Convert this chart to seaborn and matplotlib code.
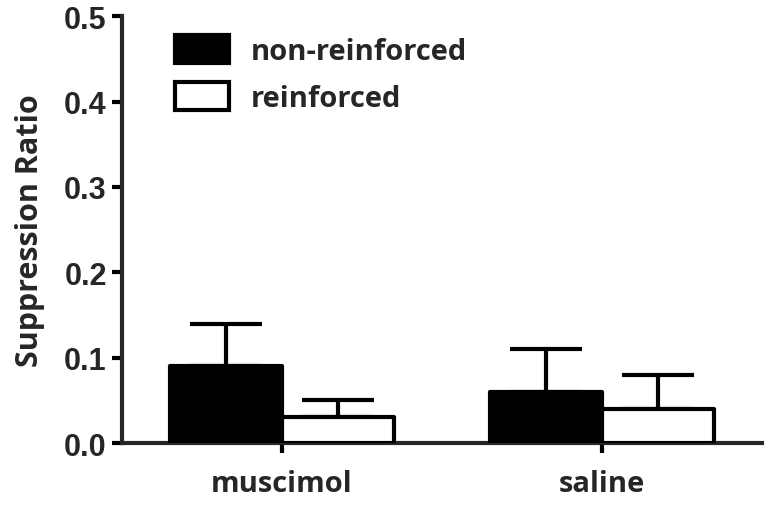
import matplotlib
matplotlib.use("Agg")
import matplotlib.pyplot as plt
import seaborn as sns
import numpy as np
import pandas as pd

groups = ["muscimol", "saline"]
conditions = ["non-reinforced", "reinforced"]
means_nonreinforced = [0.09, 0.06]
means_reinforced = [0.03, 0.04]
sem_nonreinforced = [0.05, 0.05]
sem_reinforced = [0.02, 0.04]
y_ticks = [0.0, 0.1, 0.2, 0.3, 0.4, 0.5]

df = pd.DataFrame({
    "group": groups * 2,
    "condition": [conditions[0]] * 2 + [conditions[1]] * 2,
    "ratio": means_nonreinforced + means_reinforced,
    "err": sem_nonreinforced + sem_reinforced,
})

sns.set_style("ticks")
plt.rcParams["font.family"] = ["Open Sans", "DejaVu Sans"]
plt.rcParams["font.weight"] = "bold"

fig = plt.figure(figsize=(7.68, 5.06), dpi=100)
ax = fig.add_axes([0.159, 0.1225, 0.833, 0.8435])

lw = 3.0
sns.barplot(data=df, x="group", y="ratio", hue="condition", order=groups,
            hue_order=conditions, palette=["black", "white"], edgecolor="black",
            linewidth=lw, width=0.7, errorbar=None, ax=ax, zorder=3)

for cont, cond in zip(ax.containers, conditions):
    sub = df[df["condition"] == cond].set_index("group").loc[groups]
    xs = [b.get_x() + b.get_width() / 2 for b in cont]
    ys = sub["ratio"].values
    errs = sub["err"].values
    ax.errorbar(xs, ys, yerr=[np.zeros_like(errs), errs], fmt="none",
                ecolor="black", elinewidth=lw, capsize=26, capthick=lw, zorder=2)
for p in ax.patches:
    p.set_joinstyle("round")

ax.set_xlim(-0.5, 1.5)
ax.set_ylim(0, 0.5)
ax.set_yticks(y_ticks)
ax.set_yticklabels([f"{t:.1f}" for t in y_ticks], family="Liberation Sans",
                   fontweight="bold", fontsize=22)
ax.set_xticklabels(groups, fontsize=21, fontweight="bold")
ax.set_xlabel("")
ax.set_ylabel("Suppression Ratio", fontsize=22, fontweight="bold")
ax.yaxis.set_label_coords(-0.12, 0.5)

for s in ["top", "right"]:
    ax.spines[s].set_visible(False)
for s in ["left", "bottom"]:
    ax.spines[s].set_linewidth(lw)
ax.tick_params(axis="both", width=lw, length=7, color="black", pad=4)
ax.tick_params(axis="x", pad=12)

leg = ax.legend(loc="upper left", bbox_to_anchor=(0.042, 1.018), frameon=False,
                fontsize=21, handlelength=1.85, handleheight=1.1,
                handletextpad=0.75, labelspacing=0.55)
for t in leg.get_texts():
    t.set_fontweight("bold")

fig.savefig("out.png", dpi=100)
